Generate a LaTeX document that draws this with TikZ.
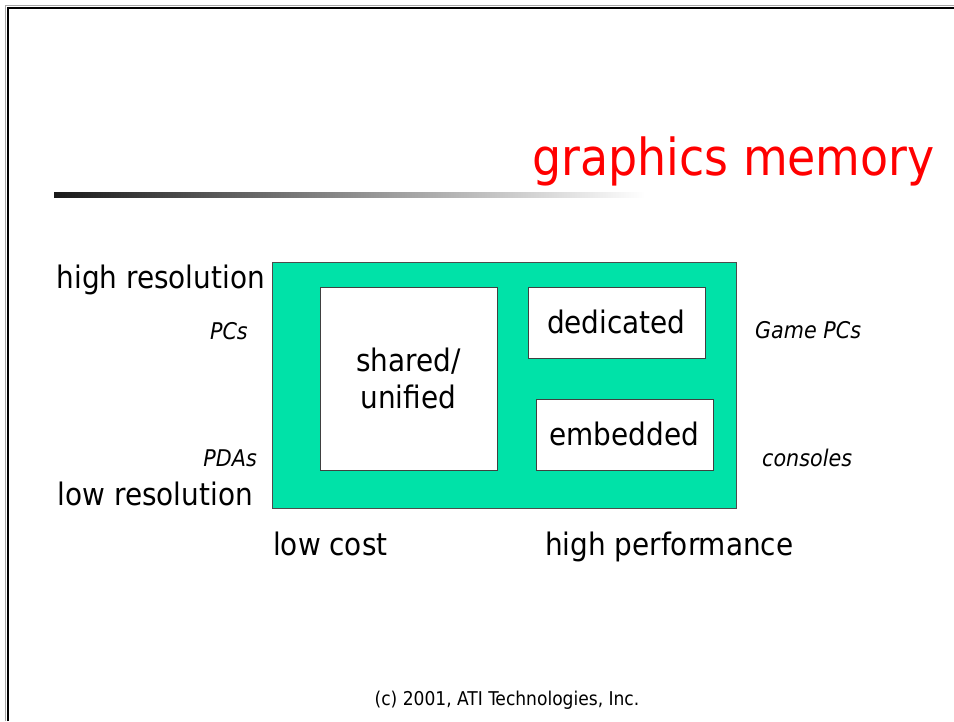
\documentclass[tikz,border=0pt]{standalone}
\usepackage{fontspec}
\setmainfont{DejaVu Sans Condensed}
\begin{document}
\begin{tikzpicture}[x=1pt,y=-1pt,
  lab/.style={inner sep=0pt,font=\fontsize{31}{36}\selectfont},
  ilab/.style={inner sep=0pt,font=\fontsize{23}{26}\selectfont\itshape},
  whitebox/.style={draw=black!75,line width=0.8pt,fill=white,inner sep=0pt,align=center,font=\fontsize{31}{37}\selectfont},
  ]
\definecolor{mint}{HTML}{00E2A8}
\definecolor{titlered}{HTML}{FF0000}
\useasboundingbox (0,0) rectangle (954,721);
\fill[white] (0,0) rectangle (954,721);
% slide frame
\draw[black!35,line width=0.8pt] (5.5,721) -- (5.5,5.5) -- (954,5.5);
\draw[black,line width=2pt] (7.5,721) -- (7.5,7.5) -- (954,7.5);
% title bar
\shade[left color=black!90,right color=white] (54,192) rectangle (645,197);
\node[anchor=base east,inner sep=0pt,text=titlered,font=\fontsize{51}{56}\selectfont] (title) at (935,175) {graphics memory};
% main area
\node[draw=black!70,line width=0.9pt,fill=mint,minimum width=464pt,minimum height=246pt,anchor=north west,inner sep=0pt] (area) at (272,262) {};
\node[whitebox,minimum width=177pt,minimum height=183pt,anchor=north west] (shared) at (319.5,286.5) {shared/\\unified};
\node[whitebox,minimum width=177pt,minimum height=71pt,anchor=north west] (dedicated) at (527.5,286.5) {dedicated};
\node[whitebox,minimum width=177pt,minimum height=71pt,anchor=north west] (embedded) at (535.5,398.5) {embedded};
% axis labels
\node[lab,anchor=base east] (hires) at (265,288) {high resolution};
\node[lab,anchor=base east] (lores) at (253,505) {low resolution};
\node[lab,anchor=base west] (lowcost) at (273,555) {low cost};
\node[lab,anchor=base west] (highperf) at (545,555) {high performance};
\node[ilab,anchor=base east] (pcs) at (248,339) {PCs};
\node[ilab,anchor=base east] (pdas) at (257,466) {PDAs};
\node[ilab,anchor=base west] (gamepcs) at (755,338) {Game PCs};
\node[ilab,anchor=base west] (consoles) at (762,466) {consoles};
% footer
\node[inner sep=0pt,font=\fontsize{19}{22}\selectfont] (footer) at (507,700) {(c) 2001, ATI Technologies, Inc.};
\end{tikzpicture}
\end{document}
